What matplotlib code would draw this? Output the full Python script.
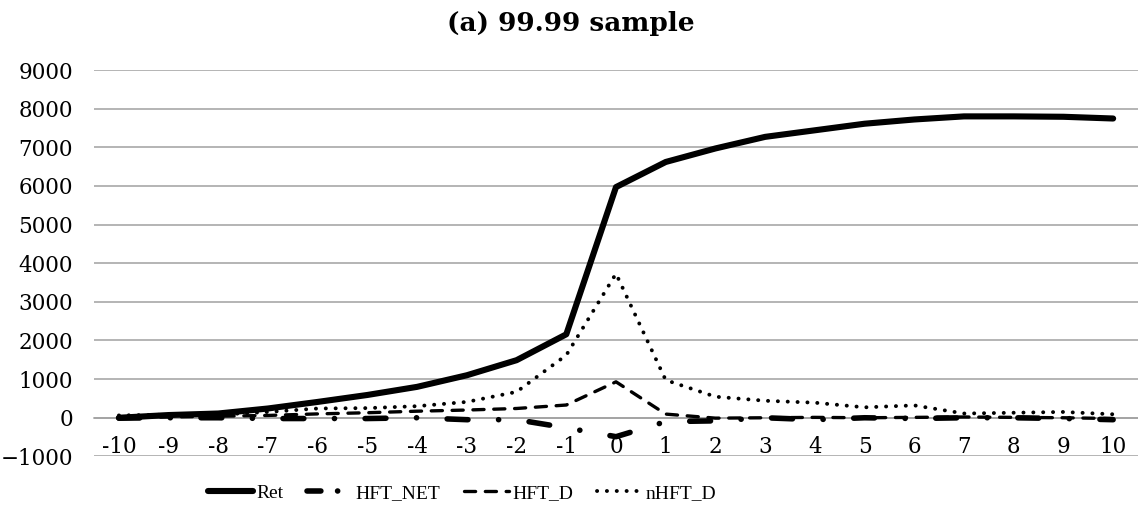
import matplotlib
matplotlib.use('Agg')
import matplotlib.pyplot as plt

# event window (days relative to the event)
days = list(range(-10, 11))
day_labels = [str(d) for d in days]

ret = [0, 70, 110, 240, 410, 590, 800, 1100, 1490, 2160, 5970,
       6620, 6970, 7270, 7440, 7610, 7720, 7800, 7800, 7790, 7745]
hft_net = [-10, 0, 0, -20, -20, -20, 0, -50, -50, -260, -490,
           -100, -80, 0, -50, 0, -20, 0, 0, -20, -50]
hft_d = [0, 20, 40, 60, 100, 130, 170, 200, 240, 330, 930,
         95, -10, 0, 10, 0, 10, 20, 10, 0, -20]
nhft_d = [60, 80, 80, 150, 240, 250, 300, 410, 670, 1620, 3730,
          975, 545, 440, 390, 270, 320, 110, 130, 150, 90]

plt.rcParams['lines.scale_dashes'] = False

fig = plt.figure(figsize=(11.38, 5.21), dpi=100)
ax = fig.add_axes([0.0826, 0.124, 0.9174, 0.7416])

ax.plot(days, ret, color='black', lw=4.4, solid_capstyle='round', label='Ret')
ax.plot(days, hft_net, color='black', lw=4, dashes=(15, 22, 0.1, 22),
        dash_capstyle='round', label='HFT_NET')
ax.plot(days, hft_d, color='black', lw=2.4, dashes=(8, 7),
        dash_capstyle='round', label='HFT_D')
ax.plot(days, nhft_d, color='black', lw=2.8, dashes=(0.1, 7),
        dash_capstyle='round', label='nHFT_D')

ax.set_xlim(-10.5, 10.5)
ax.set_ylim(-1000, 9000)
ax.set_yticks(range(-1000, 9001, 1000))
ax.set_xticks(days)
ax.set_xticklabels(day_labels)

ax.grid(axis='y', color='#a0a0a0', lw=1.1)
ax.set_axisbelow(True)
for s in ['top', 'right', 'left']:
    ax.spines[s].set_visible(False)
ax.spines['bottom'].set_position(('data', 0))
ax.spines['bottom'].set_color('#a0a0a0')
ax.spines['bottom'].set_linewidth(1.1)
ax.spines['bottom'].set_zorder(0.5)
ax.tick_params(axis='both', length=0, labelsize=15.5)
ax.tick_params(axis='y', pad=15)
ax.tick_params(axis='x', pad=13)
for t in ax.get_xticklabels() + ax.get_yticklabels():
    t.set_family('DejaVu Serif')

fig.suptitle('(a) 99.99 sample', x=0.502, y=0.978, fontsize=19,
             fontweight='bold', family='DejaVu Serif')

leg = fig.legend(loc='center', bbox_to_anchor=(462 / 1138, 1 - 493 / 521), ncol=4,
                 frameon=False, handlelength=2.3, handletextpad=0.2, columnspacing=1.2,
                 prop={'family': 'Liberation Serif', 'size': 14})
# short legend sample so the dash and the dot both show
leg.get_lines()[1].set_dashes((10, 12, 0.1, 20))

fig.savefig('out.png', dpi=100)
